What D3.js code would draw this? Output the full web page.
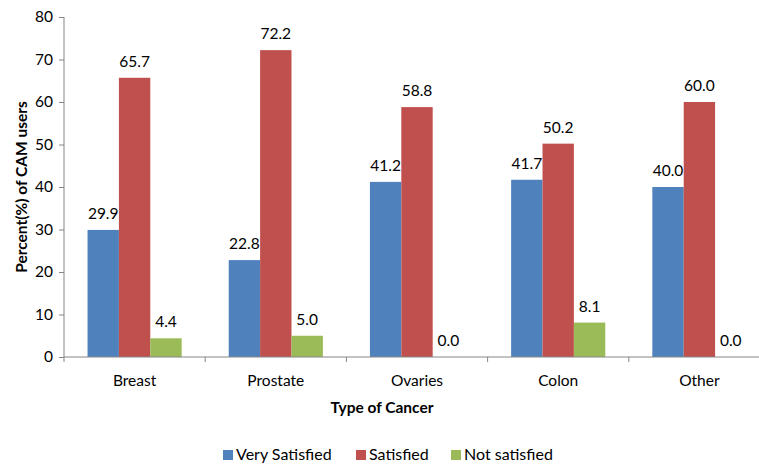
<!DOCTYPE html>
<html lang="en">
<head>
<meta charset="utf-8">
<title>CAM satisfaction by cancer type</title>
<script src="https://d3js.org/d3.v7.min.js"></script>
<style>
	body { margin: 0; background: #fff; }
	svg { font-family: Lato, "Open Sans", sans-serif; }
</style>
</head>
<body>
<div id="chart"></div>
<script type="text/javascript">
	var categories = ["Breast", "Prostate", "Ovaries", "Colon", "Other"];
	var seriesNames = ["Very Satisfied", "Satisfied", "Not satisfied"];
	var verySatisfied = [29.9, 22.8, 41.2, 41.7, 40.0];
	var satisfied = [65.7, 72.2, 58.8, 50.2, 60.0];
	var notSatisfied = [4.4, 5.0, 0.0, 8.1, 0.0];
	var yTicks = [0, 10, 20, 30, 40, 50, 60, 70, 80];
	var colors = ["#4F81BD", "#C0504D", "#9BBB59"];

	var w = 759, h = 465;
	var padL = 64, padR = 770, padT = 17, padB = 357;

	var svg = d3.select("#chart").append("svg")
		.attr("width", w)
		.attr("height", h);

	var x0 = d3.scaleBand().domain(categories).range([padL, padR]);
	var x1 = d3.scaleBand().domain(seriesNames)
		.range([0, x0.bandwidth()])
		.paddingOuter(0.75);
	var y = d3.scaleLinear().domain([0, 80]).range([padB, padT]);

	var rows = categories.map(function(c, i) {
		return { cat: c, vals: [verySatisfied[i], satisfied[i], notSatisfied[i]] };
	});

	var groups = svg.selectAll("g.grp")
		.data(rows)
		.enter()
		.append("g")
		.attr("class", "grp")
		.attr("transform", function(d) { return "translate(" + x0(d.cat) + ",0)"; });

	groups.selectAll("rect")
		.data(function(d) { return d.vals; })
		.enter()
		.append("rect")
		.attr("x", function(d, i) { return x1(seriesNames[i]); })
		.attr("y", function(d) { return y(d); })
		.attr("width", x1.bandwidth())
		.attr("height", function(d) { return padB - y(d); })
		.attr("fill", function(d, i) { return colors[i]; });

	groups.selectAll("text")
		.data(function(d) { return d.vals; })
		.enter()
		.append("text")
		.attr("x", function(d, i) { return x1(seriesNames[i]) + x1.bandwidth() / 2; })
		.attr("y", function(d) { return y(d) - 11; })
		.attr("text-anchor", "middle")
		.attr("font-size", "15.5px")
		.attr("fill", "#000")
		.text(function(d) { return d.toFixed(1); });

	// y axis
	var yAxis = svg.append("g")
		.attr("transform", "translate(" + padL + ",0)")
		.call(d3.axisLeft(y).tickValues(yTicks).tickSize(5).tickPadding(6));
	yAxis.selectAll("line, path").attr("stroke", "#868686");
	yAxis.select("path").attr("d", "M0," + padT + "V" + padB);
	yAxis.selectAll("text").attr("font-size", "15.5px").attr("fill", "#000")
		.style("font-family", "Lato, sans-serif");

	// x axis with ticks on category boundaries
	var xg = svg.append("g");
	xg.append("line")
		.attr("x1", padL).attr("x2", padR)
		.attr("y1", padB).attr("y2", padB)
		.attr("stroke", "#868686");
	xg.selectAll("line.tk")
		.data(categories.concat(["end"]))
		.enter()
		.append("line")
		.attr("class", "tk")
		.attr("x1", function(d, i) { return padL + i * x0.bandwidth(); })
		.attr("x2", function(d, i) { return padL + i * x0.bandwidth(); })
		.attr("y1", padB).attr("y2", padB + 5)
		.attr("stroke", "#868686");
	xg.selectAll("text")
		.data(categories)
		.enter()
		.append("text")
		.attr("x", function(d) { return x0(d) + x0.bandwidth() / 2; })
		.attr("y", padB + 29)
		.attr("text-anchor", "middle")
		.attr("font-size", "15.5px")
		.text(function(d) { return d; });

	svg.append("text")
		.attr("x", 382).attr("y", 413)
		.attr("text-anchor", "middle")
		.attr("font-size", "15.5px")
		.attr("font-weight", "bold")
		.text("Type of Cancer");

	svg.append("text")
		.attr("transform", "translate(27,187) rotate(-90)")
		.attr("text-anchor", "middle")
		.attr("font-size", "15.5px")
		.attr("font-weight", "bold")
		.text("Percent(%) of CAM users");

	// legend
	var legendX = [223, 356, 451];
	var lg = svg.selectAll("g.leg")
		.data(seriesNames)
		.enter()
		.append("g")
		.attr("class", "leg")
		.attr("transform", function(d, i) { return "translate(" + legendX[i] + ",450)"; });
	lg.append("rect")
		.attr("width", 10).attr("height", 10)
		.attr("fill", function(d, i) { return colors[i]; });
	lg.append("text")
		.attr("x", 13).attr("y", 10)
		.attr("font-size", "16px")
		.text(function(d) { return d; });
</script>
</body>
</html>
